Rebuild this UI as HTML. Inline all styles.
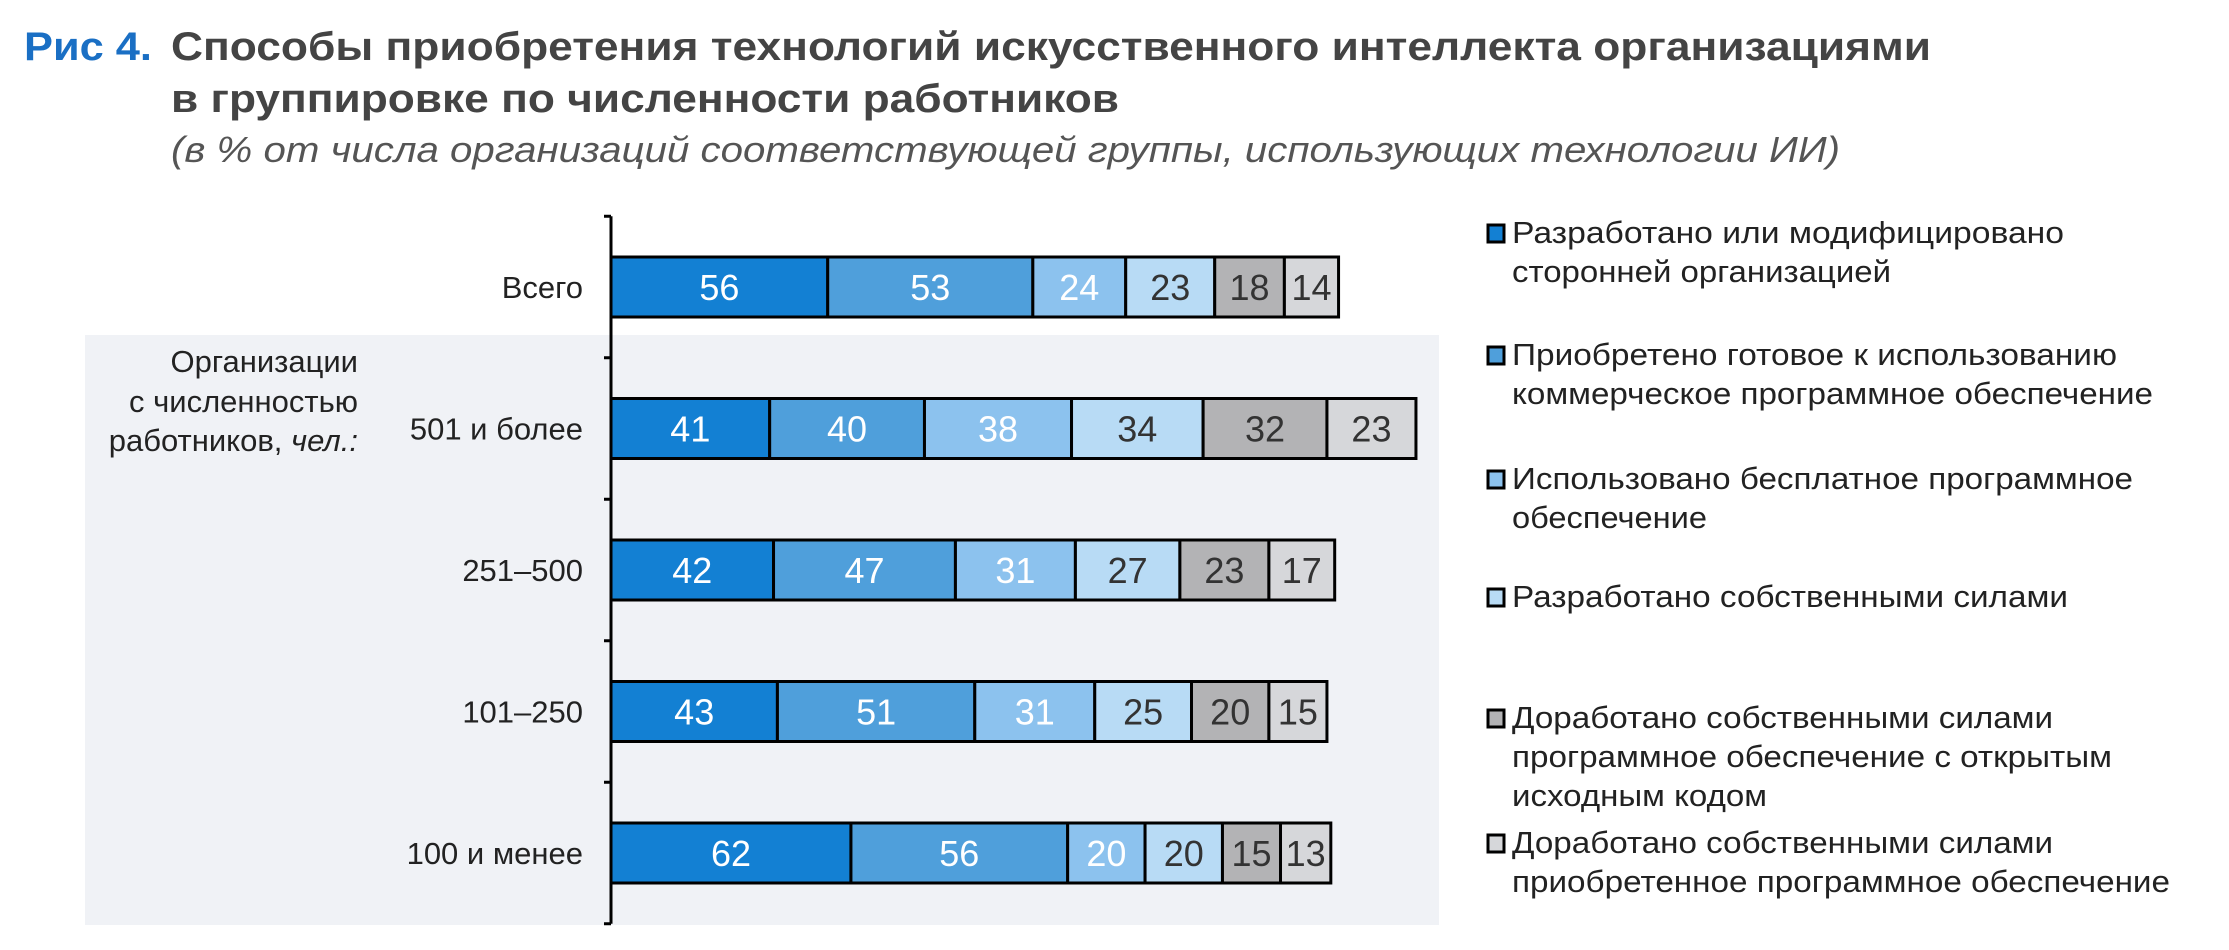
<!DOCTYPE html>
<html><head><meta charset="utf-8"><style>
body{margin:0;background:#fff;}
svg text{font-family:"Liberation Sans",sans-serif;}
</style></head><body>
<svg id="chart" width="2229" height="945" viewBox="0 0 2229 945" xmlns="http://www.w3.org/2000/svg">
<rect x="85" y="335" width="1354" height="590" fill="#f0f2f6"/>
<text x="24" y="60" font-size="40" font-weight="bold" fill="#1a6fc4" textLength="128" lengthAdjust="spacingAndGlyphs">Рис 4.</text>
<text x="171" y="60" font-size="40" font-weight="bold" fill="#444" textLength="1760" lengthAdjust="spacingAndGlyphs">Способы приобретения технологий искусственного интеллекта организациями</text>
<text x="171" y="112" font-size="40" font-weight="bold" fill="#444" textLength="948" lengthAdjust="spacingAndGlyphs">в группировке по численности работников</text>
<text x="171" y="162" font-size="36" font-style="italic" fill="#555" textLength="1669" lengthAdjust="spacingAndGlyphs">(в % от числа организаций соответствующей группы, использующих технологии ИИ)</text>
<text font-size="31" fill="#222" text-anchor="end">
<tspan x="358" y="372">Организации</tspan><tspan x="358" y="412">с численностью</tspan><tspan x="358" y="451">работников, <tspan font-style="italic">чел.:</tspan></tspan></text>
<g id="bars"></g>
<g id="legend"></g>
</svg>
<script>
const categories=["Всего","501 и более","251–500","101–250","100 и менее"];
const s1=[56,41,42,43,62];
const s2=[53,40,47,51,56];
const s3=[24,38,31,31,20];
const s4=[23,34,27,25,20];
const s5=[18,32,23,20,15];
const s6=[14,23,17,15,13];
const seriesNames=["Разработано или модифицировано|сторонней организацией","Приобретено готовое к использованию|коммерческое программное обеспечение","Использовано бесплатное программное|обеспечение","Разработано собственными силами","Доработано собственными силами|программное обеспечение с открытым|исходным кодом","Доработано собственными силами|приобретенное программное обеспечение"];
const series=[s1,s2,s3,s4,s5,s6];
const colors=["#1380d3","#4f9fdb","#8cc2ee","#b8dbf5","#b3b3b5","#d6d7da"];
const textColors=["#fff","#fff","#fff","#333","#333","#333"];
const NS="http://www.w3.org/2000/svg";
const x0=611, pxPer=3.87, rowTop=287, rowStep=141.5, barH=60;
const xs=v=>x0+v*pxPer;
const yc=i=>rowTop+i*rowStep;
const g=document.getElementById('bars');
function mk(tag,attrs,parent){const e=document.createElementNS(NS,tag);for(const k in attrs)e.setAttribute(k,attrs[k]);parent.appendChild(e);return e;}
const ax=mk('line',{x1:x0,y1:yc(0)-rowStep/2,x2:x0,y2:yc(4)+rowStep/2,stroke:'#000','stroke-width':3},g);


for(let i=0;i<=categories.length;i++){
 const y=yc(0)-rowStep/2+i*rowStep;
 const t=mk('line',{x1:x0-7,y1:y,x2:x0,y2:y,stroke:'#000','stroke-width':3},g);
 
 
}
categories.forEach((c,i)=>{
 const lab=mk('text',{x:583,y:yc(i)+11,'font-size':31,fill:'#222','text-anchor':'end'},g);
 lab.textContent=c;
 
 
 let cum=0;
 series.forEach((s,j)=>{
  const v=s[i];
  const r=mk('rect',{x:xs(cum),y:yc(i)-barH/2,width:xs(cum+v)-xs(cum),height:barH,fill:colors[j],stroke:'#000','stroke-width':3},g);
  
  
  const t=mk('text',{x:(xs(cum)+xs(cum+v))/2,y:yc(i)+13,'font-size':36,fill:textColors[j],'text-anchor':'middle'},g);
  t.textContent=v;
  
  
  cum+=v;
 });
});
const lg=document.getElementById('legend');
const legY=[243,365,489,607,728,853];
const legW=[[552,379],[605,641],[621,195],[556],[541,600,255],[541,658]];
seriesNames.forEach((n,j)=>{
 const m=mk('rect',{x:1488,y:legY[j]-18,width:16,height:17,fill:colors[j],stroke:'#000','stroke-width':3},lg);
 
 
 n.split('|').forEach((line,k)=>{
  const t=mk('text',{x:1512,y:legY[j]+k*39,'font-size':31,fill:'#222',textLength:legW[j][k],lengthAdjust:'spacingAndGlyphs'},lg);
  t.textContent=line;
  
  
 });
});
</script>
</body></html>
